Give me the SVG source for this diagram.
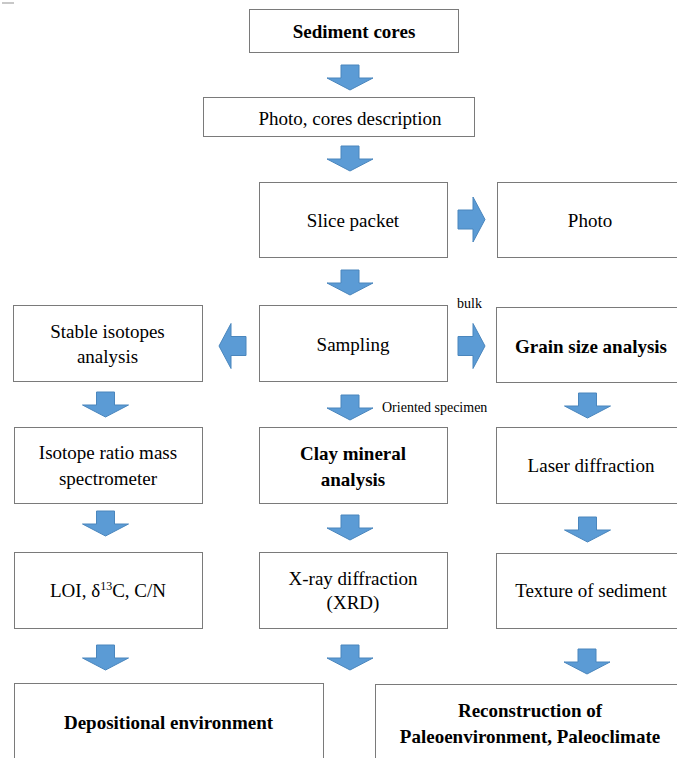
<svg xmlns="http://www.w3.org/2000/svg" xmlns:xlink="http://www.w3.org/1999/xlink" width="677" height="758" viewBox="0 0 677 758" font-family="'Liberation Serif', 'DejaVu Serif', serif">
<style>
.box{fill:#ffffff;stroke:#7a7a7a;stroke-width:1}
.t{font-family:'Liberation Serif','DejaVu Serif',serif;font-size:19px;fill:#000;text-anchor:middle}
.b{font-weight:bold}
.s{font-family:'Liberation Serif','DejaVu Serif',serif;font-size:14px;fill:#000}
.ar{fill:#5b9bd5;stroke:#4a86bd;stroke-width:1}
</style>
<defs>
<path id="dn" d="M-9,0 H9 V13 H23 L0,25 L-23,13 H-9 Z"/>
<path id="rt" d="M0,-9.5 H15 V-22.5 L27,0 L15,22.5 V9.5 H0 Z"/>
<path id="lt" d="M0,-9.5 H-15 V-22.5 L-27,0 L-15,22.5 V9.5 H0 Z"/>
</defs>
<rect x="2" y="2" width="12" height="2" fill="#c8c8c8"/>
<g id="connectors" class="ar">
<use xlink:href="#dn" x="350" y="65"/>
<use xlink:href="#dn" x="350" y="146"/>
<use xlink:href="#dn" x="350" y="270"/>
<use xlink:href="#dn" x="350" y="395"/>
<use xlink:href="#dn" x="105.5" y="392"/>
<use xlink:href="#dn" x="587.5" y="393"/>
<use xlink:href="#dn" x="105.5" y="511"/>
<use xlink:href="#dn" x="350" y="515"/>
<use xlink:href="#dn" x="587.5" y="517"/>
<use xlink:href="#dn" x="105.5" y="645"/>
<use xlink:href="#dn" x="350" y="645"/>
<use xlink:href="#dn" x="587" y="649"/>
<use xlink:href="#rt" x="458" y="219.5"/>
<use xlink:href="#rt" x="458" y="346"/>
<use xlink:href="#lt" x="246" y="346"/>
</g>
<g id="n1"><rect class="box" x="249.5" y="9.5" width="209" height="43"/><text class="t b" x="354" y="38">Sediment cores</text></g>
<g id="n2"><rect class="box" x="203.5" y="97.5" width="271" height="39"/><text class="t" x="350" y="125">Photo, cores description</text></g>
<g id="n3"><rect class="box" x="259.5" y="182.5" width="188" height="75"/><text class="t" x="353" y="227">Slice packet</text></g>
<g id="n4"><rect class="box" x="497.5" y="182.5" width="190" height="75"/><text class="t" x="590" y="227">Photo</text></g>
<g id="n5"><rect class="box" x="13.5" y="305.5" width="189" height="76"/><text class="t" x="107.5" y="338">Stable isotopes</text><text class="t" x="107.5" y="363">analysis</text></g>
<g id="n6"><rect class="box" x="259.5" y="305.5" width="188" height="76"/><text class="t" x="353" y="351">Sampling</text></g>
<text class="s" x="457" y="308">bulk</text>
<g id="n7"><rect class="box" x="496.5" y="307.5" width="190" height="75"/><text class="t b" x="591" y="353">Grain size analysis</text></g>
<text class="s" x="382" y="412">Oriented specimen</text>
<g id="n8"><rect class="box" x="14.5" y="427.5" width="188" height="76"/><text class="t" x="108" y="459">Isotope ratio mass</text><text class="t" x="108" y="485">spectrometer</text></g>
<g id="n9"><rect class="box" x="259.5" y="427.5" width="188" height="76"/><text class="t b" x="353" y="460">Clay mineral</text><text class="t b" x="353" y="486">analysis</text></g>
<g id="n10"><rect class="box" x="496.5" y="427.5" width="190" height="76"/><text class="t" x="591" y="472">Laser diffraction</text></g>
<g id="n11"><rect class="box" x="14.5" y="552.5" width="188" height="76"/><text class="t" x="108" y="597">LOI, δ<tspan font-size="12" dy="-7">13</tspan><tspan dy="7">C, C/N</tspan></text></g>
<g id="n12"><rect class="box" x="259.5" y="552.5" width="188" height="76"/><text class="t" x="353" y="585">X-ray diffraction</text><text class="t" x="353" y="609">(XRD)</text></g>
<g id="n13"><rect class="box" x="496.5" y="553.5" width="190" height="75"/><text class="t" x="591" y="597">Texture of sediment</text></g>
<g id="n14"><rect class="box" x="14.5" y="683.5" width="309" height="90"/><text class="t b" x="168.5" y="729">Depositional environment</text></g>
<g id="n15"><rect class="box" x="375.5" y="684.5" width="310" height="90"/><text class="t b" x="530" y="717">Reconstruction of</text><text class="t b" x="530" y="743">Paleoenvironment, Paleoclimate</text></g>
</svg>
